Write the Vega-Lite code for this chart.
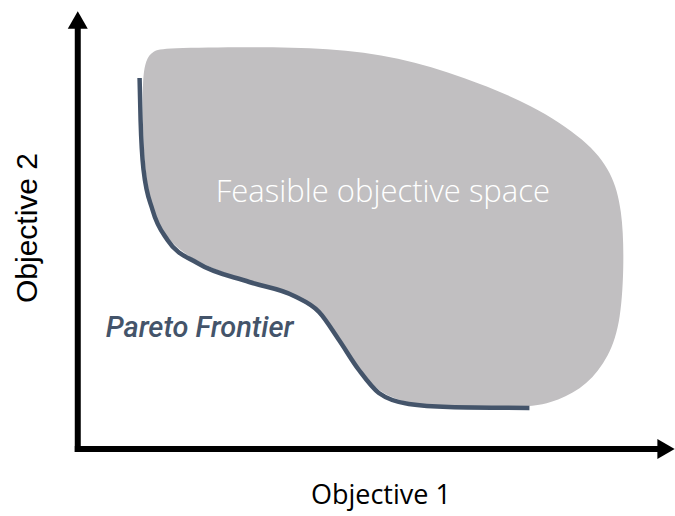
{
  "$schema": "https://vega.github.io/schema/vega-lite/v6.json",
  "width": 675,
  "height": 516,
  "padding": 0,
  "autosize": {"type": "fit", "contains": "padding"},
  "config": {"view": {"stroke": null}},
  "datasets": {
    "blob": [
      {"i": 0, "x": 165, "y": 48},
      {"i": 1, "x": 250, "y": 47},
      {"i": 2, "x": 330, "y": 48},
      {"i": 3, "x": 400, "y": 57},
      {"i": 4, "x": 465, "y": 77},
      {"i": 5, "x": 535, "y": 105},
      {"i": 6, "x": 588, "y": 140},
      {"i": 7, "x": 614, "y": 172},
      {"i": 8, "x": 624, "y": 210},
      {"i": 9, "x": 626, "y": 260},
      {"i": 10, "x": 623, "y": 320},
      {"i": 11, "x": 611, "y": 357},
      {"i": 12, "x": 589, "y": 385},
      {"i": 13, "x": 560, "y": 401},
      {"i": 14, "x": 530, "y": 408},
      {"i": 15, "x": 450, "y": 407},
      {"i": 16, "x": 410, "y": 404},
      {"i": 17, "x": 380, "y": 393},
      {"i": 18, "x": 360, "y": 370},
      {"i": 19, "x": 340, "y": 340},
      {"i": 20, "x": 320, "y": 312},
      {"i": 21, "x": 295, "y": 296},
      {"i": 22, "x": 250, "y": 282},
      {"i": 23, "x": 200, "y": 264},
      {"i": 24, "x": 168, "y": 242},
      {"i": 25, "x": 152, "y": 210},
      {"i": 26, "x": 145, "y": 170},
      {"i": 27, "x": 143, "y": 120},
      {"i": 28, "x": 143, "y": 80},
      {"i": 29, "x": 146, "y": 60},
      {"i": 30, "x": 153, "y": 51}
    ],
    "frontier": [
      {"i": 0, "x": 140, "y": 78},
      {"i": 1, "x": 141, "y": 120},
      {"i": 2, "x": 144, "y": 170},
      {"i": 3, "x": 153, "y": 210},
      {"i": 4, "x": 168, "y": 240},
      {"i": 5, "x": 198, "y": 263},
      {"i": 6, "x": 250, "y": 282},
      {"i": 7, "x": 295, "y": 296},
      {"i": 8, "x": 320, "y": 312},
      {"i": 9, "x": 340, "y": 340},
      {"i": 10, "x": 360, "y": 370},
      {"i": 11, "x": 380, "y": 393},
      {"i": 12, "x": 410, "y": 404},
      {"i": 13, "x": 450, "y": 407},
      {"i": 14, "x": 531, "y": 408}
    ],
    "axes": [
      {"x": 78, "y": 26, "x2": 78, "y2": 452},
      {"x": 75, "y": 449, "x2": 665, "y2": 449}
    ],
    "arrows": [
      {"x": 78, "y": 20, "shape": "triangle-up"},
      {"x": 668, "y": 449, "shape": "triangle-right"}
    ]
  },
  "layer": [
    {
      "data": {"name": "blob"},
      "mark": {"type": "line", "filled": true, "fill": "#c1bfc1", "stroke": null, "interpolate": "basis-closed"},
      "encoding": {
        "x": {"field": "x", "type": "quantitative", "scale": {"domain": [0, 675], "nice": false, "zero": false}, "axis": null},
        "y": {"field": "y", "type": "quantitative", "scale": {"domain": [0, 516], "nice": false, "zero": false, "reverse": true}, "axis": null},
        "order": {"field": "i"}
      }
    },
    {
      "data": {"name": "frontier"},
      "mark": {"type": "line", "stroke": "#44546a", "strokeWidth": 4.5, "interpolate": "monotone"},
      "encoding": {
        "x": {"field": "x", "type": "quantitative"},
        "y": {"field": "y", "type": "quantitative"},
        "order": {"field": "i"}
      }
    },
    {
      "data": {"name": "axes"},
      "mark": {"type": "rule", "color": "black", "strokeWidth": 6},
      "encoding": {
        "x": {"field": "x", "type": "quantitative"},
        "y": {"field": "y", "type": "quantitative"},
        "x2": {"field": "x2"},
        "y2": {"field": "y2"}
      }
    },
    {
      "data": {"name": "arrows"},
      "mark": {"type": "point", "filled": true, "color": "black", "opacity": 1, "size": 400},
      "encoding": {
        "x": {"field": "x", "type": "quantitative"},
        "y": {"field": "y", "type": "quantitative"},
        "shape": {"field": "shape", "type": "nominal", "scale": null}
      }
    },
    {
      "data": {"values": [{"x": 384, "y": 193, "t": "Feasible objective space"}]},
      "mark": {"type": "text", "color": "white", "fontSize": 31, "font": "Open Sans", "fontWeight": 300, "align": "center", "baseline": "middle"},
      "encoding": {
        "x": {"field": "x", "type": "quantitative"},
        "y": {"field": "y", "type": "quantitative"},
        "text": {"field": "t"}
      }
    },
    {
      "data": {"values": [{"x": 106, "y": 328, "t": "Pareto Frontier"}]},
      "mark": {"type": "text", "color": "#44546a", "fontSize": 29, "font": "Roboto", "fontStyle": "italic", "fontWeight": 500, "align": "left", "baseline": "middle"},
      "encoding": {
        "x": {"field": "x", "type": "quantitative"},
        "y": {"field": "y", "type": "quantitative"},
        "text": {"field": "t"}
      }
    },
    {
      "data": {"values": [{"x": 382, "y": 496, "t": "Objective 1"}]},
      "mark": {"type": "text", "color": "black", "fontSize": 27, "font": "Open Sans", "align": "center", "baseline": "middle"},
      "encoding": {
        "x": {"field": "x", "type": "quantitative"},
        "y": {"field": "y", "type": "quantitative"},
        "text": {"field": "t"}
      }
    },
    {
      "data": {"values": [{"x": 28, "y": 228, "t": "Objective 2"}]},
      "mark": {"type": "text", "color": "black", "fontSize": 30, "font": "Liberation Sans", "align": "center", "baseline": "middle", "angle": 270},
      "encoding": {
        "x": {"field": "x", "type": "quantitative"},
        "y": {"field": "y", "type": "quantitative"},
        "text": {"field": "t"}
      }
    }
  ]
}
